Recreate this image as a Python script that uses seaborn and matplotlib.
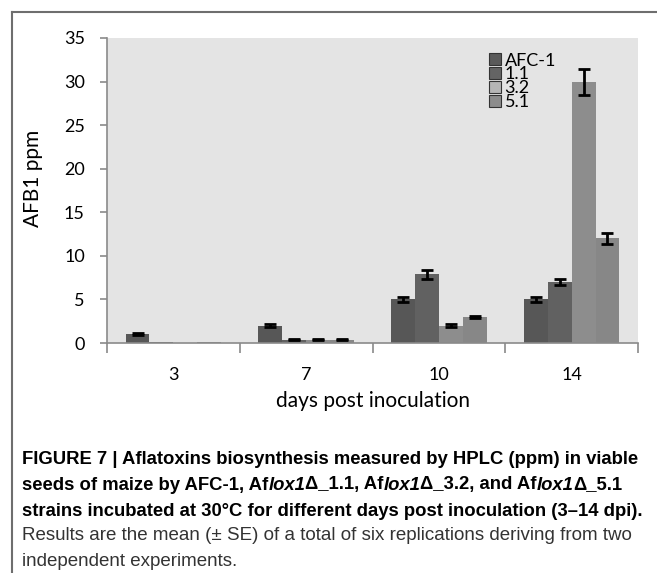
import matplotlib
matplotlib.use('Agg')
import matplotlib.pyplot as plt
from matplotlib.patches import Patch
from matplotlib.lines import Line2D
import seaborn as sns
import pandas as pd
import numpy as np

# values (AFB1 ppm, mean +/- SE)
days = ['3', '7', '10', '14']
strains = ['AFC-1', '1.1', '3.2', '5.1']
afc1_mean = [1.0, 2.0, 5.0, 5.0]
s11_mean = [0.1, 0.4, 7.9, 7.0]
s32_mean = [0.05, 0.4, 2.0, 30.0]
s51_mean = [0.1, 0.4, 3.0, 12.0]
afc1_se = [0.12, 0.18, 0.25, 0.27]
s11_se = [0.0, 0.1, 0.5, 0.4]
s32_se = [0.0, 0.1, 0.15, 1.5]
s51_se = [0.0, 0.1, 0.15, 0.65]

bar_colors = ['#575757', '#616161', '#8d8d8d', '#878787']
legend_colors = ['#5a5a5a', '#646464', '#b5b5b5', '#8c8c8c']

means = [afc1_mean, s11_mean, s32_mean, s51_mean]
ses = [afc1_se, s11_se, s32_se, s51_se]
df = pd.DataFrame({'day': days * 4,
                   'strain': np.repeat(strains, len(days)),
                   'ppm': np.concatenate(means),
                   'se': np.concatenate(ses)})

tick_font = 'Lato'
cap_font = ['Liberation Sans', 'DejaVu Sans']

fig = plt.figure(figsize=(6.57, 5.73), dpi=100)
ax = fig.add_axes([107 / 657, 1 - 343 / 573, 531 / 657, 305 / 573])
ax.set_facecolor('#e4e4e4')

sns.barplot(data=df, x='day', y='ppm', hue='strain', order=days, hue_order=strains,
            palette=dict(zip(strains, bar_colors)), errorbar=None, width=0.72,
            saturation=1, linewidth=0, legend=False, ax=ax)

# error bars on top of each bar
for cont, se in zip(ax.containers, ses):
    xs = [p.get_x() + p.get_width() / 2 for p in cont]
    hs = [p.get_height() for p in cont]
    keep = [i for i, e in enumerate(se) if e > 0]
    ax.errorbar([xs[i] for i in keep], [hs[i] for i in keep], yerr=[se[i] for i in keep],
                fmt='none', ecolor='black', elinewidth=2, capsize=4.5, capthick=2, zorder=5)

ax.set_xlim(-0.5, 3.5)
ax.set_ylim(0, 35)
ax.set_yticks(range(0, 36, 5))
ax.set_xticks(range(4))
ax.set_xticks(np.arange(-0.5, 4, 1), minor=True)
ax.tick_params(axis='x', which='major', length=0, pad=17, labelsize=13)
ax.tick_params(axis='x', which='minor', length=7, width=1.2, color='#8a8a8a')
ax.tick_params(axis='y', length=5, width=1.2, color='#8a8a8a', pad=11, labelsize=13)
for lab in ax.get_xticklabels() + ax.get_yticklabels():
    lab.set_fontfamily(tick_font)
for s in ['top', 'right']:
    ax.spines[s].set_visible(False)
for s in ['left', 'bottom']:
    ax.spines[s].set_color('#8a8a8a')
    ax.spines[s].set_linewidth(1.2)

ax.set_xlabel('days post inoculation', fontsize=15, family=tick_font, labelpad=6)
ax.set_ylabel('AFB1 ppm', fontsize=15, family=tick_font)
ax.yaxis.set_label_coords(-0.12, 0.54)

handles = [Patch(facecolor=c, edgecolor='#333333', linewidth=0.8) for c in legend_colors]
ax.legend(handles, strains, loc='upper left', bbox_to_anchor=(0.72, 0.952), frameon=False,
          prop={'family': tick_font, 'size': 13}, handlelength=0.65, handleheight=0.65,
          handletextpad=0.2, labelspacing=-0.12, borderpad=0, borderaxespad=0)

# frame around the figure panel
fig.add_artist(Line2D([12 / 657, 1], [1 - 12 / 573] * 2, color='#6e6e6e', lw=1.5))
fig.add_artist(Line2D([12 / 657] * 2, [0, 1 - 12 / 573], color='#6e6e6e', lw=1.5))

# caption, drawn run by run so that the italic parts sit inline
renderer = fig.canvas.get_renderer()


def caption_line(y, runs, weight, color, size):
    x = 22 / 657
    for txt, style in runs:
        t = fig.text(x, y, txt, fontsize=size, family=cap_font, fontweight=weight,
                     fontstyle=style, color=color, va='center')
        x += t.get_window_extent(renderer).width / fig.bbox.width


line_y = [459, 485, 511, 536, 562]
caption_line(1 - line_y[0] / 573,
             [('FIGURE 7 | Aflatoxins biosynthesis measured by HPLC (ppm) in viable', 'normal')],
             'bold', 'black', 13.3)
caption_line(1 - line_y[1] / 573,
             [('seeds of maize by AFC-1, Af', 'normal'), ('lox1', 'italic'),
              ('\u0394_1.1, Af', 'normal'), ('lox1', 'italic'),
              ('\u0394_3.2, and Af', 'normal'), ('lox1', 'italic'), ('\u0394_5.1', 'normal')],
             'bold', 'black', 13.3)
caption_line(1 - line_y[2] / 573,
             [('strains incubated at 30\u00b0C for different days post inoculation (3\u201314 dpi).', 'normal')],
             'bold', 'black', 13.3)
caption_line(1 - line_y[3] / 573,
             [('Results are the mean (\u00b1 SE) of a total of six replications deriving from two', 'normal')],
             'normal', '#333333', 13.5)
caption_line(1 - line_y[4] / 573, [('independent experiments.', 'normal')], 'normal', '#333333', 13.5)

fig.savefig('out.png', dpi=100)
